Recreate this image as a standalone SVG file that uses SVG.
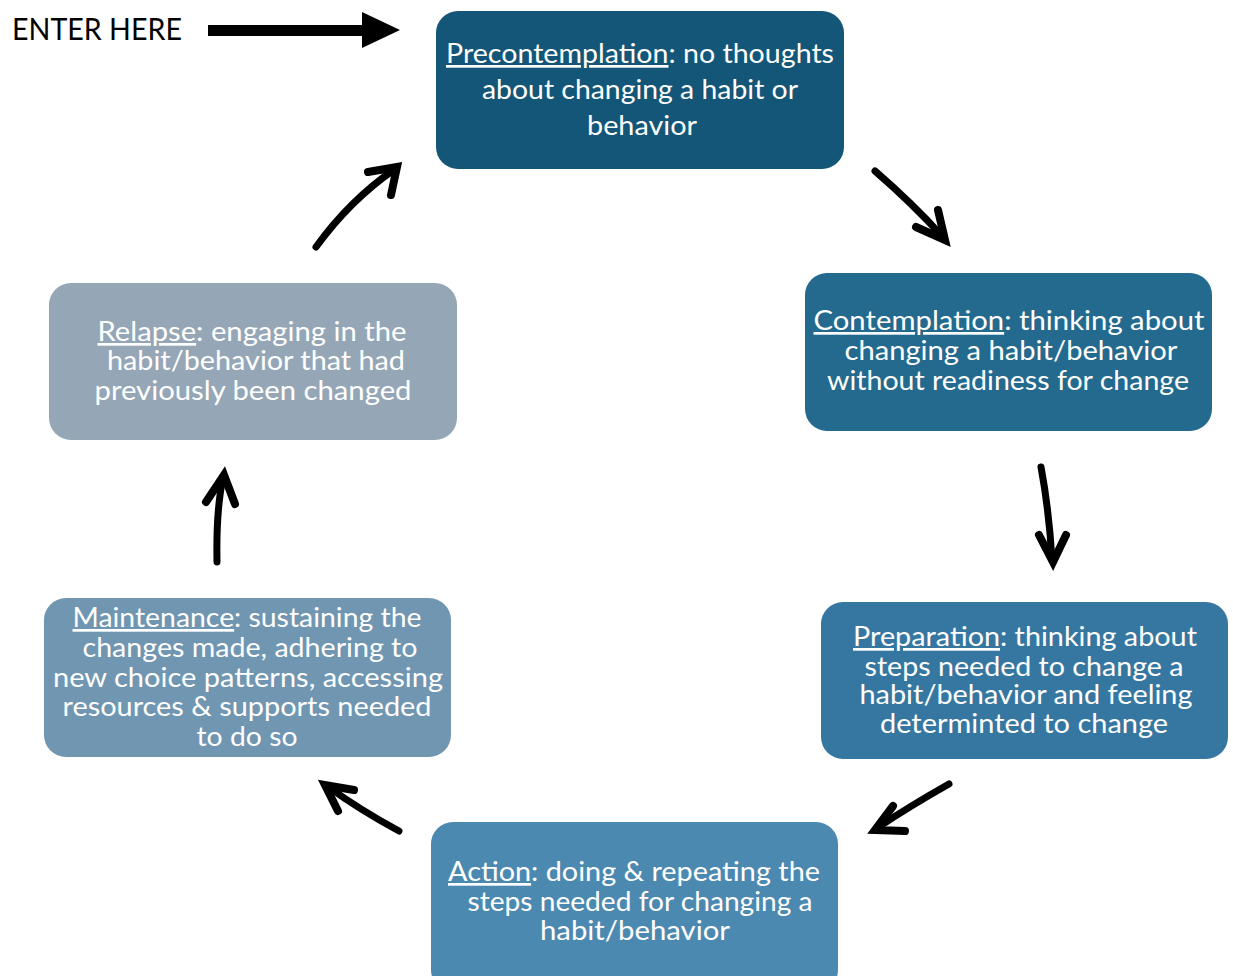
<svg xmlns="http://www.w3.org/2000/svg" width="1233" height="976" viewBox="0 0 1233 976">
<style>
.box{stroke:none}
.t{font-family:Lato,"Liberation Sans",sans-serif;font-size:27px;fill:#ffffff;text-anchor:middle}
.u{text-decoration:underline}
.shaft{fill:none;stroke:#000;stroke-width:7;stroke-linecap:round}
.head{fill:none;stroke:#000;stroke-width:8;stroke-linecap:round;stroke-linejoin:miter;stroke-miterlimit:10}
</style>
<rect width="1233" height="976" fill="#ffffff"/>
<g id="enter">
<text x="12" y="40" font-family="Lato,'Liberation Sans',sans-serif" font-size="30" fill="#000" textLength="170" lengthAdjust="spacingAndGlyphs">ENTER HERE</text>
<rect x="208" y="25" width="156" height="11" fill="#000"/>
<polygon points="362,12 400,30 362,48" fill="#000"/>
</g>
<g id="precontemplation">
<rect class="box" x="436" y="11" width="408" height="158" rx="22" fill="#135677"/>
<text class="t" x="640" y="63" textLength="388" lengthAdjust="spacingAndGlyphs"><tspan class="u">Precontemplation</tspan>: no thoughts</text>
<text class="t" x="640" y="99" textLength="316" lengthAdjust="spacingAndGlyphs">about changing a habit or</text>
<text class="t" x="642" y="135" textLength="110" lengthAdjust="spacingAndGlyphs">behavior</text>
</g>
<g id="contemplation">
<rect class="box" x="805" y="273" width="407" height="158" rx="22" fill="#236a8e"/>
<text class="t" x="1009" y="330" textLength="391" lengthAdjust="spacingAndGlyphs"><tspan class="u">Contemplation</tspan>: thinking  about</text>
<text class="t" x="1011" y="360" textLength="333" lengthAdjust="spacingAndGlyphs">changing a habit/behavior</text>
<text class="t" x="1008" y="390" textLength="362" lengthAdjust="spacingAndGlyphs">without readiness for change</text>
</g>
<g id="preparation">
<rect class="box" x="821" y="602" width="407" height="157" rx="22" fill="#3677a1"/>
<text class="t" x="1025" y="646" textLength="344" lengthAdjust="spacingAndGlyphs"><tspan class="u">Preparation</tspan>: thinking about</text>
<text class="t" x="1024" y="676" textLength="319" lengthAdjust="spacingAndGlyphs">steps needed to change a</text>
<text class="t" x="1026" y="704" textLength="333" lengthAdjust="spacingAndGlyphs">habit/behavior and feeling</text>
<text class="t" x="1024" y="733" textLength="288" lengthAdjust="spacingAndGlyphs">determinted to change</text>
</g>
<g id="action">
<rect class="box" x="431" y="822" width="407" height="170" rx="22" fill="#4c89b1"/>
<text class="t" x="634" y="881" textLength="372" lengthAdjust="spacingAndGlyphs"><tspan class="u">Action</tspan>: doing &amp; repeating the</text>
<text class="t" x="640" y="911" textLength="345" lengthAdjust="spacingAndGlyphs">steps needed for changing a</text>
<text class="t" x="635" y="940" textLength="190" lengthAdjust="spacingAndGlyphs">habit/behavior</text>
</g>
<g id="maintenance">
<rect class="box" x="44" y="598" width="407" height="159" rx="22" fill="#7096b1"/>
<text class="t" x="247" y="627" textLength="349" lengthAdjust="spacingAndGlyphs"><tspan class="u">Maintenance</tspan>: sustaining the</text>
<text class="t" x="250" y="657" textLength="335" lengthAdjust="spacingAndGlyphs">changes made, adhering to</text>
<text class="t" x="248" y="687" textLength="390" lengthAdjust="spacingAndGlyphs">new choice patterns, accessing</text>
<text class="t" x="247" y="716" textLength="369" lengthAdjust="spacingAndGlyphs">resources &amp; supports needed</text>
<text class="t" x="247" y="746" textLength="101" lengthAdjust="spacingAndGlyphs">to do so</text>
</g>
<g id="relapse">
<rect class="box" x="49" y="283" width="408" height="157" rx="22" fill="#95a6b6"/>
<text class="t" x="252" y="341" textLength="309" lengthAdjust="spacingAndGlyphs"><tspan class="u">Relapse</tspan>: engaging in the</text>
<text class="t" x="256" y="370" textLength="298" lengthAdjust="spacingAndGlyphs">habit/behavior that had</text>
<text class="t" x="253" y="400" textLength="317" lengthAdjust="spacingAndGlyphs">previously been changed</text>
</g>
<g id="connectors">
<path class="shaft" d="M875,171 Q912,203 942,236"/>
<polyline class="head" points="916,227 945,240 938,210"/>
<path class="shaft" d="M1041,467 Q1049,510 1052,560"/>
<polyline class="head" points="1039,535 1053,562 1066,535"/>
<path class="shaft" d="M949,784 Q910,806 877,828"/>
<polyline class="head" points="893,806 875,830 905,831"/>
<path class="shaft" d="M399,831 Q360,810 327,786"/>
<polyline class="head" points="338,811 325,785 354,790"/>
<path class="shaft" d="M217,562 Q216,510 223,478"/>
<polyline class="head" points="206,502 224,475 235,504"/>
<path class="shaft" d="M316,247 Q350,200 395,169"/>
<polyline class="head" points="368,172 397,167 391,195"/>
</g>
</svg>
